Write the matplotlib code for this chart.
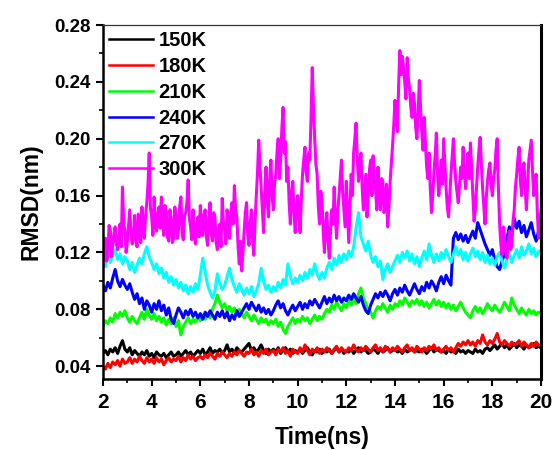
import numpy as np
import matplotlib
matplotlib.use("Agg")
import matplotlib.pyplot as plt
from matplotlib.ticker import MultipleLocator

plt.rcParams['font.family'] = ['Liberation Sans', 'DejaVu Sans']
plt.rcParams['font.weight'] = 'bold'

time_ns = [round(2.0 + 0.1 * i, 1) for i in range(181)]
time_300K = [round(2.0 + 0.05 * i, 2) for i in range(361)]

rmsd_150K = [
    0.049, 0.051, 0.048, 0.052, 0.050, 0.053, 0.049, 0.054, 0.058, 0.052,
    0.050, 0.053, 0.048, 0.051, 0.049, 0.047, 0.050, 0.048, 0.051, 0.047,
    0.049, 0.046, 0.050, 0.048, 0.047, 0.049, 0.046, 0.048, 0.050, 0.047,
    0.048, 0.050, 0.047, 0.049, 0.051, 0.048, 0.050, 0.047, 0.049, 0.051,
    0.049, 0.052, 0.048, 0.050, 0.053, 0.049, 0.051, 0.050, 0.052, 0.049,
    0.051, 0.055, 0.050, 0.052, 0.049, 0.053, 0.051, 0.050, 0.052, 0.054,
    0.056, 0.051, 0.053, 0.050, 0.052, 0.055, 0.051, 0.049, 0.052, 0.050,
    0.052, 0.050, 0.053, 0.049, 0.051, 0.053, 0.050, 0.052, 0.049, 0.051,
    0.050, 0.052, 0.049, 0.051, 0.053, 0.050, 0.048, 0.051, 0.050, 0.052,
    0.049, 0.051, 0.050, 0.052, 0.049, 0.051, 0.053, 0.050, 0.052, 0.049,
    0.051, 0.050, 0.052, 0.049, 0.051, 0.053, 0.050, 0.052, 0.051, 0.049,
    0.050, 0.052, 0.051, 0.049, 0.052, 0.050, 0.051, 0.053, 0.050, 0.051,
    0.052, 0.050, 0.051, 0.049, 0.052, 0.050, 0.051, 0.052, 0.050, 0.051,
    0.050, 0.052, 0.051, 0.049, 0.051, 0.053, 0.050, 0.052, 0.051, 0.050,
    0.051, 0.049, 0.052, 0.050, 0.051, 0.049, 0.052, 0.050, 0.051, 0.049,
    0.051, 0.050, 0.049, 0.052, 0.050, 0.051, 0.049, 0.052, 0.053, 0.051,
    0.053, 0.055, 0.052, 0.054, 0.056, 0.053, 0.055, 0.052, 0.054, 0.056,
    0.053, 0.055, 0.054, 0.052, 0.055, 0.053, 0.054, 0.056, 0.053, 0.054,
    0.053,
]

rmsd_180K = [
    0.040, 0.038, 0.042, 0.039, 0.043, 0.041, 0.044, 0.040, 0.045, 0.042,
    0.043, 0.046, 0.042, 0.045, 0.043, 0.047, 0.044, 0.042, 0.046, 0.043,
    0.045, 0.042, 0.046, 0.043, 0.045, 0.041, 0.044, 0.046, 0.043, 0.045,
    0.044, 0.047, 0.043, 0.046, 0.044, 0.048, 0.045, 0.047, 0.044, 0.046,
    0.047, 0.045, 0.048, 0.046, 0.049, 0.047, 0.045, 0.049, 0.047, 0.050,
    0.048, 0.046, 0.049, 0.047, 0.050, 0.048, 0.051, 0.049, 0.047, 0.050,
    0.049, 0.052, 0.048, 0.050, 0.047, 0.051, 0.049, 0.052, 0.048, 0.050,
    0.051, 0.048, 0.052, 0.050, 0.053, 0.049, 0.051, 0.047, 0.052, 0.050,
    0.049, 0.053, 0.050, 0.055, 0.051, 0.048, 0.052, 0.050, 0.053, 0.049,
    0.052, 0.050, 0.053, 0.051, 0.049, 0.052, 0.054, 0.050, 0.053, 0.051,
    0.050, 0.053, 0.051, 0.055, 0.052, 0.050, 0.053, 0.051, 0.054, 0.052,
    0.050, 0.053, 0.055, 0.051, 0.053, 0.050, 0.054, 0.052, 0.050, 0.053,
    0.051, 0.054, 0.052, 0.050, 0.053, 0.055, 0.051, 0.053, 0.050, 0.054,
    0.052, 0.050, 0.053, 0.051, 0.054, 0.052, 0.055, 0.051, 0.053, 0.050,
    0.052, 0.054, 0.051, 0.053, 0.050, 0.053, 0.056, 0.054, 0.057, 0.055,
    0.058, 0.055, 0.057, 0.054, 0.058, 0.056, 0.062, 0.057, 0.055, 0.058,
    0.056, 0.059, 0.063, 0.057, 0.055, 0.058, 0.056, 0.054, 0.057, 0.055,
    0.056, 0.058, 0.054, 0.057, 0.055, 0.053, 0.056, 0.054, 0.057, 0.055,
    0.054,
]

rmsd_210K = [
    0.068, 0.072, 0.070, 0.074, 0.071, 0.077, 0.074, 0.078, 0.075, 0.079,
    0.074, 0.071, 0.075, 0.072, 0.070, 0.074, 0.078, 0.073, 0.080, 0.076,
    0.073, 0.077, 0.072, 0.075, 0.071, 0.074, 0.069, 0.073, 0.070, 0.074,
    0.068, 0.072, 0.062, 0.068, 0.071, 0.074, 0.070, 0.073, 0.071, 0.075,
    0.072, 0.076, 0.073, 0.077, 0.074, 0.080, 0.084, 0.090, 0.085, 0.081,
    0.084, 0.079, 0.082, 0.078, 0.081, 0.076, 0.080, 0.077, 0.074, 0.078,
    0.075, 0.072, 0.076, 0.073, 0.070, 0.074, 0.071, 0.073, 0.069, 0.072,
    0.070, 0.073, 0.068, 0.071, 0.066, 0.063, 0.068, 0.071, 0.074, 0.070,
    0.073, 0.071, 0.075, 0.072, 0.074, 0.070, 0.073, 0.076, 0.072, 0.075,
    0.073, 0.077, 0.080, 0.078, 0.083, 0.080, 0.085, 0.082, 0.079, 0.084,
    0.081, 0.086, 0.083, 0.088, 0.084, 0.091, 0.095, 0.088, 0.084, 0.080,
    0.078, 0.074, 0.079, 0.082, 0.080, 0.084, 0.081, 0.078, 0.083, 0.080,
    0.084, 0.082, 0.086, 0.083, 0.088, 0.085, 0.082, 0.086, 0.084, 0.087,
    0.083, 0.086, 0.082, 0.085, 0.081, 0.084, 0.087, 0.083, 0.086, 0.082,
    0.085, 0.081, 0.084, 0.080, 0.083, 0.079, 0.082, 0.085, 0.081, 0.078,
    0.076, 0.074, 0.079, 0.082, 0.078, 0.081, 0.077, 0.080, 0.084, 0.081,
    0.079, 0.083, 0.080, 0.078, 0.081, 0.085, 0.082, 0.079, 0.088, 0.083,
    0.080, 0.077, 0.081, 0.078, 0.076, 0.080, 0.077, 0.079, 0.076, 0.078,
    0.077,
]

rmsd_240K = [
    0.097, 0.093, 0.099, 0.095, 0.102, 0.108, 0.100, 0.096, 0.101, 0.097,
    0.094, 0.098, 0.092, 0.087, 0.091, 0.084, 0.088, 0.080, 0.086, 0.083,
    0.078, 0.084, 0.080, 0.086, 0.079, 0.083, 0.076, 0.081, 0.073, 0.070,
    0.076, 0.081, 0.078, 0.074, 0.079, 0.076, 0.080, 0.075, 0.078, 0.074,
    0.077, 0.073, 0.078, 0.075, 0.079, 0.076, 0.073, 0.078, 0.075, 0.079,
    0.074, 0.078, 0.072, 0.076, 0.073, 0.079, 0.075, 0.078, 0.081, 0.084,
    0.080, 0.085, 0.082, 0.079, 0.083, 0.078, 0.081, 0.077, 0.080, 0.076,
    0.079, 0.083, 0.086, 0.081, 0.084, 0.079, 0.076, 0.080, 0.083, 0.079,
    0.082, 0.085, 0.080, 0.084, 0.081, 0.086, 0.083, 0.087, 0.084, 0.081,
    0.085, 0.089, 0.084, 0.088, 0.085, 0.090, 0.086, 0.089, 0.085, 0.088,
    0.086, 0.090, 0.087, 0.091, 0.088, 0.085, 0.089, 0.083, 0.079, 0.077,
    0.083, 0.087, 0.091, 0.088, 0.092, 0.089, 0.093, 0.090, 0.086, 0.091,
    0.094, 0.090, 0.095, 0.092, 0.097, 0.093, 0.090, 0.094, 0.098, 0.094,
    0.091, 0.096, 0.093, 0.099, 0.095, 0.100, 0.097, 0.093, 0.099, 0.103,
    0.098, 0.104, 0.100, 0.097, 0.130, 0.134, 0.129, 0.133, 0.128, 0.132,
    0.127, 0.131, 0.135, 0.130, 0.141, 0.136, 0.131, 0.126, 0.122, 0.118,
    0.122, 0.115, 0.110, 0.108, 0.114, 0.119, 0.130, 0.138, 0.132, 0.144,
    0.137, 0.142, 0.134, 0.139, 0.131, 0.136, 0.141, 0.133, 0.128, 0.135,
    0.132,
]

rmsd_270K = [
    0.116, 0.110, 0.120, 0.113, 0.118, 0.122, 0.115, 0.119, 0.112, 0.117,
    0.114, 0.108, 0.113, 0.106, 0.111, 0.116, 0.112, 0.119, 0.124, 0.117,
    0.113, 0.108, 0.112, 0.105, 0.109, 0.102, 0.106, 0.099, 0.103, 0.097,
    0.101, 0.095, 0.099, 0.093, 0.097, 0.091, 0.096, 0.092, 0.098, 0.094,
    0.104, 0.116, 0.106, 0.097, 0.092, 0.088, 0.093, 0.105, 0.098, 0.094,
    0.097, 0.103, 0.109, 0.101, 0.096, 0.092, 0.098, 0.094, 0.090, 0.095,
    0.091, 0.096, 0.089, 0.093, 0.098, 0.109, 0.100, 0.094, 0.097, 0.092,
    0.096, 0.093, 0.099, 0.095, 0.101, 0.097, 0.112, 0.103, 0.098, 0.102,
    0.099, 0.104, 0.100, 0.106, 0.102, 0.108, 0.104, 0.112, 0.105, 0.101,
    0.106, 0.102, 0.109, 0.113, 0.108, 0.116, 0.111, 0.118, 0.113, 0.119,
    0.115, 0.121, 0.117, 0.124, 0.137, 0.148, 0.131, 0.126, 0.121, 0.128,
    0.118, 0.113, 0.117, 0.110, 0.114, 0.101, 0.108, 0.112, 0.106, 0.110,
    0.114, 0.118, 0.113, 0.120, 0.116, 0.121, 0.114, 0.119, 0.112, 0.117,
    0.110, 0.116, 0.121, 0.115, 0.126, 0.118, 0.113, 0.119, 0.114, 0.120,
    0.116, 0.122, 0.117, 0.113, 0.119, 0.124, 0.118, 0.122, 0.115, 0.120,
    0.114, 0.119, 0.123, 0.117, 0.121, 0.115, 0.120, 0.113, 0.118, 0.112,
    0.116, 0.111, 0.117, 0.120, 0.114, 0.109, 0.115, 0.119, 0.113, 0.118,
    0.122, 0.116, 0.124, 0.118, 0.121, 0.126, 0.119, 0.123, 0.117, 0.121,
    0.119,
]

rmsd_300K = [
    0.110, 0.127, 0.130, 0.114, 0.118, 0.139, 0.136, 0.117, 0.125, 0.133,
    0.138, 0.126, 0.122, 0.130, 0.140, 0.124, 0.166, 0.142, 0.135, 0.120,
    0.128, 0.139, 0.150, 0.133, 0.126, 0.131, 0.146, 0.128, 0.124, 0.147,
    0.141, 0.127, 0.152, 0.135, 0.130, 0.146, 0.155, 0.168, 0.190, 0.151,
    0.145, 0.132, 0.159, 0.141, 0.135, 0.147, 0.152, 0.137, 0.159, 0.140,
    0.132, 0.153, 0.148, 0.131, 0.128, 0.150, 0.144, 0.127, 0.130, 0.152,
    0.146, 0.130, 0.136, 0.152, 0.159, 0.134, 0.129, 0.146, 0.148, 0.155,
    0.171, 0.144, 0.138, 0.129, 0.150, 0.133, 0.126, 0.140, 0.145, 0.131,
    0.153, 0.138, 0.132, 0.147, 0.150, 0.131, 0.125, 0.142, 0.155, 0.134,
    0.128, 0.148, 0.145, 0.127, 0.122, 0.137, 0.140, 0.124, 0.158, 0.141,
    0.136, 0.126, 0.150, 0.138, 0.130, 0.148, 0.155, 0.140, 0.167, 0.150,
    0.145, 0.125, 0.112, 0.128, 0.107, 0.120, 0.135, 0.148, 0.155, 0.132,
    0.125, 0.140, 0.150, 0.128, 0.118, 0.142, 0.160, 0.176, 0.199, 0.181,
    0.165, 0.150, 0.134, 0.162, 0.180, 0.158, 0.145, 0.171, 0.185, 0.160,
    0.150, 0.168, 0.175, 0.190, 0.200, 0.172, 0.185, 0.207, 0.222, 0.190,
    0.198, 0.170, 0.180, 0.155, 0.140, 0.162, 0.170, 0.148, 0.134, 0.152,
    0.160, 0.145, 0.134, 0.158, 0.175, 0.185, 0.194, 0.176, 0.170, 0.190,
    0.185, 0.215, 0.250, 0.222, 0.200, 0.182, 0.175, 0.152, 0.140, 0.163,
    0.157, 0.135, 0.120, 0.140, 0.148, 0.128, 0.116, 0.135, 0.150, 0.140,
    0.166, 0.145, 0.130, 0.148, 0.160, 0.172, 0.185, 0.162, 0.150, 0.138,
    0.170, 0.148, 0.127, 0.152, 0.175, 0.160, 0.190, 0.200, 0.211, 0.186,
    0.170, 0.182, 0.190, 0.166, 0.150, 0.163, 0.175, 0.145, 0.160, 0.178,
    0.185, 0.160, 0.188, 0.172, 0.165, 0.150, 0.180, 0.162, 0.150, 0.172,
    0.170, 0.148, 0.155, 0.168, 0.138, 0.152, 0.170, 0.182, 0.195, 0.210,
    0.227, 0.212, 0.205, 0.238, 0.262, 0.245, 0.258, 0.250, 0.240, 0.228,
    0.257, 0.242, 0.235, 0.222, 0.215, 0.232, 0.225, 0.208, 0.200, 0.218,
    0.241, 0.222, 0.205, 0.192, 0.215, 0.198, 0.180, 0.172, 0.190, 0.165,
    0.148, 0.160, 0.176, 0.188, 0.204, 0.175, 0.160, 0.172, 0.185, 0.168,
    0.200, 0.182, 0.165, 0.152, 0.145, 0.160, 0.175, 0.188, 0.200, 0.182,
    0.170, 0.162, 0.155, 0.168, 0.180, 0.172, 0.194, 0.176, 0.165, 0.178,
    0.190, 0.172, 0.197, 0.178, 0.160, 0.142, 0.150, 0.166, 0.180, 0.192,
    0.201, 0.182, 0.165, 0.152, 0.140, 0.158, 0.170, 0.178, 0.183, 0.168,
    0.160, 0.172, 0.178, 0.192, 0.200, 0.165, 0.140, 0.126, 0.118, 0.138,
    0.130, 0.120, 0.116, 0.128, 0.135, 0.122, 0.125, 0.142, 0.150, 0.166,
    0.175, 0.186, 0.194, 0.172, 0.160, 0.176, 0.183, 0.165, 0.150, 0.168,
    0.185, 0.192, 0.199, 0.178, 0.160, 0.170, 0.175, 0.148, 0.130, 0.142,
    0.150,
]

labels = ["150K", "180K", "210K", "240K", "270K", "300K"]
colors = ["#000000", "#ff0000", "#00ff00", "#0000ff", "#00ffff", "#ff00ff"]
series = [rmsd_150K, rmsd_180K, rmsd_210K, rmsd_240K, rmsd_270K, rmsd_300K]
times = [time_ns, time_ns, time_ns, time_ns, time_ns, time_300K]

fig = plt.figure(figsize=(5.53, 4.5), dpi=100)
ax = fig.add_axes([103/553, 1 - 379/450, (541 - 103)/553, (379 - 25)/450])

for t, y, c, lab in zip(times, series, colors, labels):
    ax.plot(t, y, color=c, lw=2.2, label=lab)

ax.set_xlim(2, 20)
ax.set_ylim(0.031, 0.28)
ax.xaxis.set_major_locator(MultipleLocator(2))
ax.xaxis.set_minor_locator(MultipleLocator(1))
ax.yaxis.set_minor_locator(MultipleLocator(0.02))
ax.set_yticks([0.04, 0.08, 0.12, 0.16, 0.20, 0.24, 0.28])
ax.set_yticklabels(["0.04", "0.08", "0.12", "0.16", "0.20", "0.24", "0.28"])

ax.tick_params(axis='both', which='major', direction='out', length=5, width=1.5)
ax.tick_params(axis='both', which='minor', direction='out', length=3, width=1.2)
ax.tick_params(axis='x', labelsize=15, pad=5)
ax.tick_params(axis='y', labelsize=13.5, pad=4)
ax.tick_params(top=False, right=False, which='both')

ax.spines['left'].set_linewidth(1.8)
ax.spines['bottom'].set_linewidth(1.8)
ax.spines['right'].set_linewidth(2.2)
ax.spines['top'].set_linewidth(0.9)
ax.spines['top'].set_color('#333333')

ax.set_xlabel("Time(ns)", fontsize=16.5, fontweight='bold', labelpad=10)
ax.set_ylabel("RMSD(nm)", fontsize=16.5, fontweight='bold', labelpad=8)

leg = ax.legend(loc='upper left', frameon=False, fontsize=14.5,
                handlelength=2.2, handletextpad=0.25, labelspacing=0.34,
                borderpad=0.15, borderaxespad=0.15)
for line in leg.get_lines():
    line.set_linewidth(1.8)

fig.savefig("out.png", dpi=100)
